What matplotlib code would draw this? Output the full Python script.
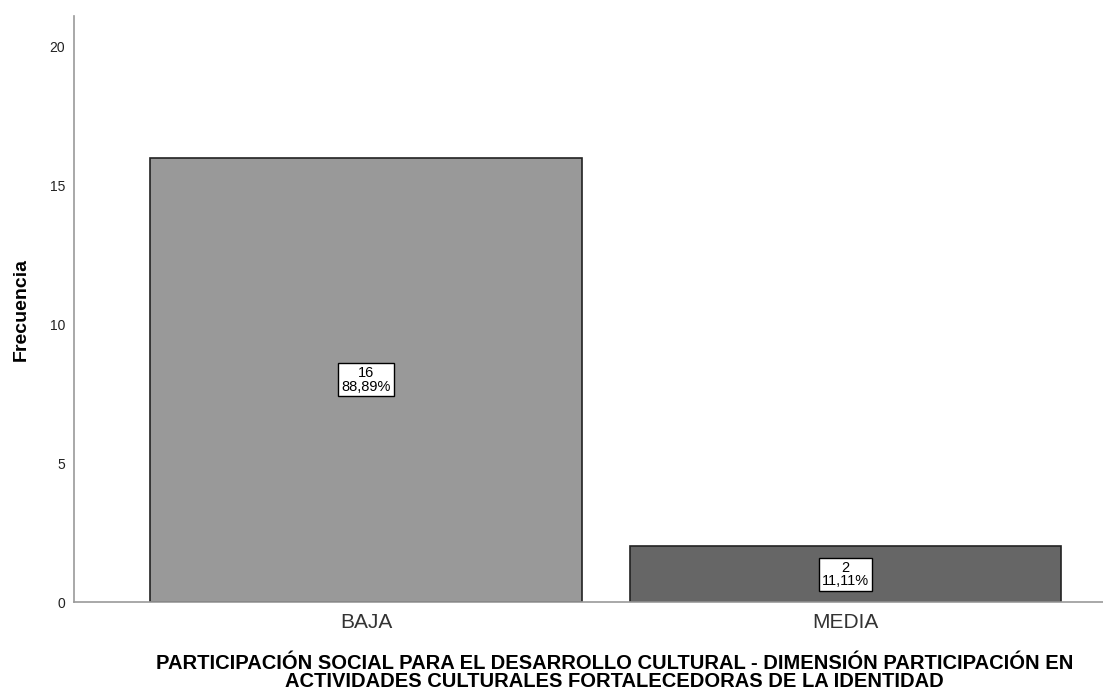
import matplotlib
matplotlib.use("Agg")
import matplotlib.pyplot as plt

# Datos
categorias = ["BAJA", "MEDIA"]
frecuencias = [16, 2]
porcentajes = ["88,89%", "11,11%"]
colores = ["#999999", "#666666"]

plt.rcParams['font.family'] = ['Liberation Sans', 'DejaVu Sans']

fig = plt.figure(figsize=(11.03, 6.98), dpi=100)
ax = fig.add_axes([0.0671, 0.1375, 0.9329, 0.8395])

x = range(len(categorias))
ax.bar(x, frecuencias, width=0.9, color=colores, edgecolor="#222222", linewidth=1.2)

# Etiquetas dentro de las barras
for i, (f, p) in enumerate(zip(frecuencias, porcentajes)):
    ax.text(i, f / 2, f"{f}\n{p}", ha="center", va="center", fontsize=10.5,
            linespacing=0.95, color="black",
            bbox=dict(boxstyle="square,pad=0.2", facecolor="white",
                      edgecolor="black", linewidth=1))

ax.set_xlim(-0.609, 1.537)
ax.set_ylim(0, 21.1)
ax.set_yticks([0, 5, 10, 15, 20])
ax.set_xticks(list(x))
ax.set_xticklabels(categorias, fontsize=15, color="#333333")
ax.tick_params(axis="both", length=0)
ax.tick_params(axis="y", labelsize=10, pad=6.5, labelcolor="#222222")
ax.tick_params(axis="x", pad=8)

for s in ["top", "right"]:
    ax.spines[s].set_visible(False)
for s in ["left", "bottom"]:
    ax.spines[s].set_color("#999999")
    ax.spines[s].set_linewidth(1.2)

ax.set_ylabel("Frecuencia", fontsize=14, fontweight="bold", labelpad=14)
fig.text(0.557, 0.036,
         "PARTICIPACIÓN SOCIAL PARA EL DESARROLLO CULTURAL - DIMENSIÓN PARTICIPACIÓN EN\n"
         "ACTIVIDADES CULTURALES FORTALECEDORAS DE LA IDENTIDAD",
         ha="center", va="center", fontsize=14.5, fontweight="bold", linespacing=0.92)

fig.savefig("out.png", dpi=100)
